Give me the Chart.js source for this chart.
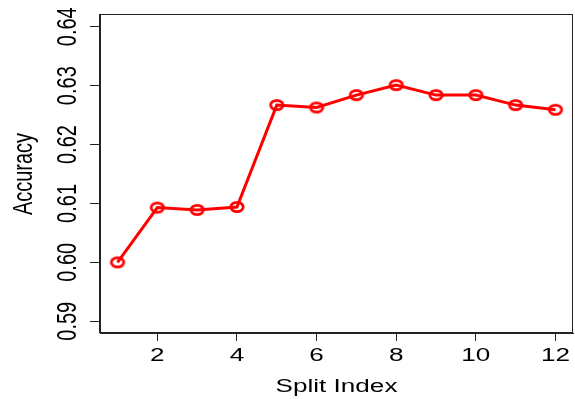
<!DOCTYPE html>
<html>
<head>
<meta charset="utf-8">
<script src="https://cdn.jsdelivr.net/npm/chart.js@4"></script>
<style>
  html, body { margin: 0; padding: 0; background: #fff; }
  #wrap { width: 575px; height: 399px; }
</style>
</head>
<body>
<div id="wrap"><canvas id="myChart" width="575" height="399"></canvas></div>
<script>
const splitIndex = [1, 2, 3, 4, 5, 6, 7, 8, 9, 10, 11, 12];
const accuracy = [0.6000, 0.6093, 0.6089, 0.6094, 0.6267, 0.6263, 0.6284, 0.6301, 0.6284, 0.6284, 0.6267, 0.6259];
const xTicks = [2, 4, 6, 8, 10, 12];
const yTicks = [0.59, 0.60, 0.61, 0.62, 0.63, 0.64];

// the source image is stretched sideways, so text and markers are too
const stretch = 1.45;
const fontX = '18px "Liberation Sans", Arial, sans-serif';
const fontY = '20px "Liberation Sans", Arial, sans-serif';

// open ellipse marker like R's pch=1
const marker = document.createElement('canvas');
marker.width = 18;
marker.height = 14;
const mctx = marker.getContext('2d');
mctx.strokeStyle = '#ff0000';
mctx.lineWidth = 2.8;
mctx.beginPath();
mctx.ellipse(9, 7, 6.2, 4.6, 0, 0, Math.PI * 2);
mctx.stroke();

const rStyle = {
  id: 'rStyle',
  afterDraw(chart) {
    const c = chart.ctx;
    const a = chart.chartArea;
    const xs = chart.scales.x;
    const ys = chart.scales.y;
    c.save();
    c.strokeStyle = '#222';
    c.lineWidth = 1;
    c.strokeRect(a.left - 0.5, a.top - 0.5, a.right - a.left, a.bottom - a.top);
    c.fillStyle = '#000';
    c.textAlign = 'center';
    c.textBaseline = 'alphabetic';

    // x tick labels
    c.font = fontX;
    xTicks.forEach(v => {
      c.save();
      c.translate(xs.getPixelForValue(v), 361);
      c.scale(stretch, 1);
      c.fillText(String(v), 0, 0);
      c.restore();
    });
    c.save();
    c.translate((a.left + a.right) / 2, 392);
    c.scale(stretch, 1);
    c.fillText('Split Index', 0, 0);
    c.restore();

    // y tick labels, rotated
    c.font = fontY;
    yTicks.forEach(v => {
      c.save();
      c.translate(76, ys.getPixelForValue(v));
      c.scale(1.4, 1);
      c.rotate(-Math.PI / 2);
      c.fillText(v.toFixed(2), 0, 0);
      c.restore();
    });
    c.save();
    c.translate(32, (a.top + a.bottom) / 2);
    c.scale(1.4, 1);
    c.rotate(-Math.PI / 2);
    c.fillText('Accuracy', 0, 0);
    c.restore();
    c.restore();
  }
};

const ctx = document.getElementById('myChart');
const myChart = new Chart(ctx, {
  type: 'line',
  data: {
    datasets: [{
      label: 'Accuracy',
      data: splitIndex.map((x, i) => ({ x: x, y: accuracy[i] })),
      borderColor: '#ff0000',
      borderWidth: 3,
      pointStyle: marker,
      pointRadius: 6,
      tension: 0
    }]
  },
  options: {
    responsive: false,
    animation: false,
    layout: { autoPadding: false, padding: { top: 15, right: 2, left: 0, bottom: 0 } },
    plugins: { legend: { display: false }, tooltip: { enabled: false } },
    scales: {
      x: {
        type: 'linear',
        min: 0.56,
        max: 12.44,
        afterBuildTicks: s => { s.ticks = xTicks.map(v => ({ value: v })); },
        afterFit: s => { s.height = 66; },
        ticks: { display: false },
        grid: { drawOnChartArea: false, drawTicks: true, tickLength: 8, color: '#222' },
        border: { display: true, color: '#222' }
      },
      y: {
        min: 0.588,
        max: 0.642,
        afterBuildTicks: s => { s.ticks = yTicks.map(v => ({ value: v })); },
        afterFit: s => { s.width = 100; },
        ticks: { display: false },
        grid: { drawOnChartArea: false, drawTicks: true, tickLength: 10, color: '#222' },
        border: { display: true, color: '#222' }
      }
    }
  },
  plugins: [rStyle]
});
</script>
</body>
</html>
